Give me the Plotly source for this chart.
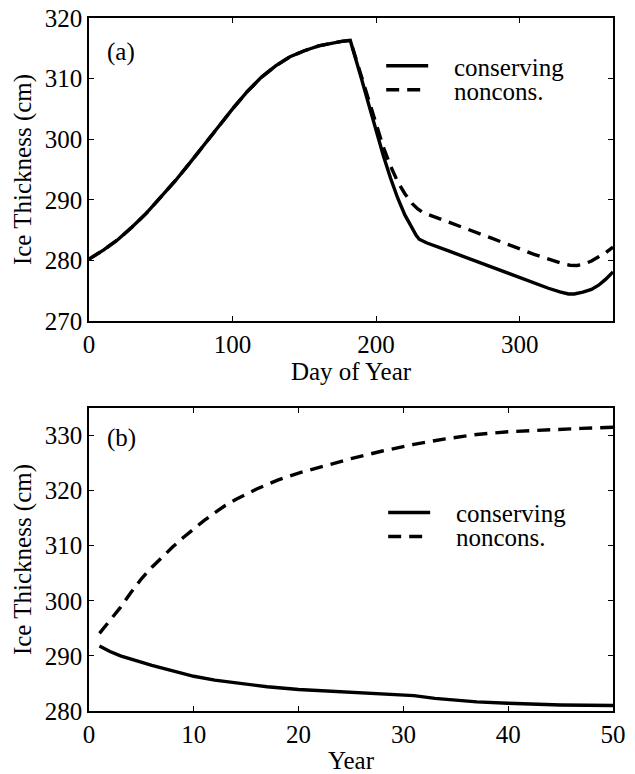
import plotly.graph_objects as go
from plotly.subplots import make_subplots

# ---- Panel (a): seasonal cycle ----
day_cons = [0, 10, 20, 30, 40, 50, 60, 70, 80, 90, 100, 110, 120, 130, 140, 150, 160, 170, 176,
            182, 185, 190, 195, 200, 205, 210, 215, 220, 225, 228, 230, 232, 235, 250, 270, 296,
            320, 328, 334, 338, 344, 350, 355, 360, 365]
thk_cons = [280.2, 281.7, 283.4, 285.5, 287.8, 290.4, 293.1, 296.0, 298.9, 302.0, 305.0, 307.8,
            310.2, 312.1, 313.6, 314.6, 315.4, 315.9, 316.15, 316.3, 314.0, 309.8, 305.6, 301.3,
            297.3, 293.6, 290.3, 287.5, 285.2, 284.1, 283.5, 283.2, 282.9, 281.6, 279.8, 277.5,
            275.4, 274.8, 274.45, 274.45, 274.75, 275.2, 275.9, 276.9, 278.1]
day_nonc = [0, 10, 20, 30, 40, 50, 60, 70, 80, 90, 100, 110, 120, 130, 140, 150, 160, 170, 176,
            182, 185, 190, 195, 200, 205, 210, 215, 220, 225, 229, 232, 236, 250, 280, 310, 325,
            330, 335, 340, 345, 350, 355, 360, 365]
thk_nonc = [280.2, 281.7, 283.4, 285.5, 287.8, 290.4, 293.1, 296.0, 298.9, 302.0, 305.0, 307.8,
            310.2, 312.1, 313.6, 314.6, 315.4, 315.9, 316.15, 316.3, 314.0, 310.0, 306.2, 302.3,
            298.7, 295.6, 293.0, 291.0, 289.4, 288.5, 288.0, 287.6, 286.4, 283.7, 281.0, 279.8,
            279.45, 279.2, 279.15, 279.4, 279.9, 280.6, 281.3, 282.2]

# ---- Panel (b): multi-year ----
yr_cons = [1, 2, 3, 4, 5, 6, 8, 10, 12, 14, 17, 20, 22, 25, 27, 30, 31, 33, 35, 37, 40, 45, 50]
thk_yr_cons = [291.8, 290.8, 290.0, 289.4, 288.9, 288.3, 287.3, 286.3, 285.6, 285.1, 284.4,
               283.9, 283.7, 283.3, 283.1, 282.9, 282.8, 282.3, 281.9, 281.65, 281.4, 281.1, 281.0]
yr_nonc = [1, 2, 3, 4, 5, 6, 7, 8, 9, 10, 11, 12, 13, 14, 15, 16, 17, 18, 20, 22, 25, 28, 31,
           34, 37, 40, 44, 47, 50]
thk_yr_nonc = [294.1, 296.5, 298.8, 301.5, 304.0, 306.1, 308.0, 309.8, 311.5, 313.1, 314.6,
               316.0, 317.3, 318.4, 319.4, 320.3, 321.1, 321.9, 323.2, 324.3, 325.8, 327.2,
               328.4, 329.4, 330.2, 330.7, 331.1, 331.3, 331.5]

FONT = "Liberation Serif"
FS = 25
PAD = "\u00a0\u00a0\u00a0\u200a"

fig = make_subplots(rows=2, cols=1, vertical_spacing=0.1256)

solid = dict(color="black", width=3.4)
dashed = dict(color="black", width=3.4, dash="13px,8px")

fig.add_trace(go.Scatter(x=day_cons, y=thk_cons, mode="lines", line=solid,
                         name=PAD + "conserving", legend="legend"), row=1, col=1)
fig.add_trace(go.Scatter(x=day_nonc, y=thk_nonc, mode="lines", line=dashed,
                         name=PAD + "noncons.", legend="legend2"), row=1, col=1)
fig.add_trace(go.Scatter(x=yr_cons, y=thk_yr_cons, mode="lines", line=solid,
                         name=PAD + "conserving", legend="legend3"), row=2, col=1)
fig.add_trace(go.Scatter(x=yr_nonc, y=thk_yr_nonc, mode="lines", line=dashed,
                         name=PAD + "noncons.", legend="legend4"), row=2, col=1)

tfont = dict(family=FONT, size=FS, color="black")
axis_common = dict(showline=True, linecolor="black", linewidth=1.5, mirror="ticks",
                   ticks="inside", ticklen=5, tickwidth=1.2, tickcolor="black",
                   showgrid=False, zeroline=False, automargin=False,
                   ticklabeloverflow="allow", tickfont=tfont)

fig.update_xaxes(**axis_common)
fig.update_yaxes(**axis_common)

fig.update_xaxes(range=[0, 365], tickvals=[0, 100, 200, 300],
                 title=dict(text="Day of Year", font=tfont, standoff=3), row=1, col=1)
fig.update_yaxes(range=[270, 320], dtick=10,
                 title=dict(text="Ice Thickness (cm)", font=tfont, standoff=6), row=1, col=1)
fig.update_xaxes(range=[0, 50], dtick=10,
                 title=dict(text="Year", font=tfont, standoff=7), row=2, col=1)
fig.update_yaxes(range=[280, 335], tickvals=[280, 290, 300, 310, 320, 330],
                 title=dict(text="Ice Thickness (cm)", font=tfont, standoff=6), row=2, col=1)

leg_common = dict(xanchor="left", yanchor="middle", bgcolor="rgba(0,0,0,0)",
                  font=tfont, itemwidth=42, borderwidth=0)

# page body has an 8px default margin, so the figure is 8px smaller than the window
fig.update_layout(
    width=627, height=766,
    margin=dict(l=81, r=22, t=10, b=63),
    font=dict(family=FONT, size=FS, color="black"),
    paper_bgcolor="white", plot_bgcolor="white",
    showlegend=True,
    legend=dict(x=0.5576, y=0.9307, **leg_common),
    legend2=dict(x=0.5576, y=0.8961, **leg_common),
    legend3=dict(x=0.5614, y=0.2861, **leg_common),
    legend4=dict(x=0.5614, y=0.2515, **leg_common),
    annotations=[
        dict(text="(a)", xref="x domain", yref="y domain", x=0.03, y=0.888,
             xanchor="left", yanchor="middle", showarrow=False, font=tfont),
        dict(text="(b)", xref="x2 domain", yref="y2 domain", x=0.03, y=0.901,
             xanchor="left", yanchor="middle", showarrow=False, font=tfont),
    ],
)

fig.write_html("out.html")
